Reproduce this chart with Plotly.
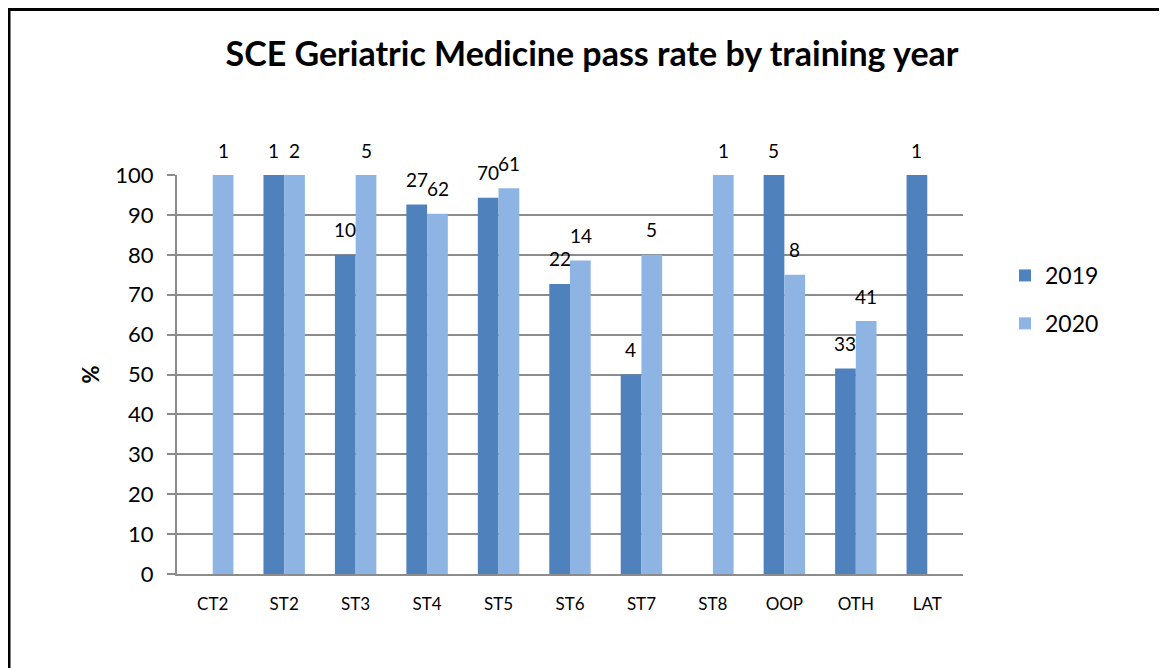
import plotly.graph_objects as go

categories = ["CT2", "ST2", "ST3", "ST4", "ST5", "ST6", "ST7", "ST8", "OOP", "OTH", "LAT"]
pass_2019 = [None, 100, 80, 92.6, 94.3, 72.7, 50, None, 100, 51.5, 100]
pass_2020 = [100, 100, 100, 90.3, 96.7, 78.6, 80, 100, 75, 63.4, None]
n_2019 = [None, 1, 10, 27, 70, 22, 4, None, 5, 33, 1]
n_2020 = [1, 2, 5, 62, 61, 14, 5, 1, 8, 41, None]
y_ticks = [0, 10, 20, 30, 40, 50, 60, 70, 80, 90, 100]

FONT = "Lato, 'Open Sans', sans-serif"
C2019 = "#4F81BD"
C2020 = "#8EB4E3"

# page is offset by the browser's 8px body margin
W, H = 1159, 660
L, R, T, B = 169, 204, 167, 94
PW, PH = W - L - R, H - T - B

fig = go.Figure()
fig.add_trace(go.Bar(name="2019", x=categories, y=pass_2019, marker_color=C2019,
                     marker_line_width=0, legendgroup="a", cliponaxis=False))
fig.add_trace(go.Bar(name="2020", x=categories, y=pass_2020, marker_color=C2020,
                     marker_line_width=0, legendgroup="b", cliponaxis=False))

annotations = []
for vals, ns, shift in ((pass_2019, n_2019, -10.5), (pass_2020, n_2020, 10.5)):
    for c, v, n in zip(categories, vals, ns):
        if v is None or n is None:
            continue
        annotations.append(dict(x=c, y=v, xref="x", yref="y", text=str(n), showarrow=False,
                                xshift=shift, yshift=25, font=dict(size=19, color="black", family=FONT)))

fig.update_layout(
    width=W, height=H,
    margin=dict(l=L, r=R, t=T, b=B),
    paper_bgcolor="white", plot_bgcolor="white",
    font=dict(family=FONT, color="black"),
    barmode="group", bargap=0.42, bargroupgap=0,
    title=dict(text="<b>SCE Geriatric Medicine pass rate by training year</b>",
               x=584 / W, xanchor="center", y=1 - 46 / H, yanchor="middle", yref="container",
               font=dict(size=34, family=FONT, color="black")),
    legend=dict(x=(997 - L) / PW, y=(566 - 246) / PH, xanchor="left", yanchor="top",
                font=dict(size=23, family=FONT),
                tracegroupgap=15, traceorder="grouped", bgcolor="rgba(0,0,0,0)"),
    annotations=annotations,
    shapes=[dict(type="rect", xref="paper", yref="paper", x0=(1 - L) / PW, x1=1.4,
                 y0=-0.5, y1=(566 - 1.5) / PH, line=dict(color="black", width=3),
                 fillcolor="rgba(0,0,0,0)", layer="below")],
)
fig.update_yaxes(range=[0, 100], tickvals=y_ticks, showgrid=True, gridcolor="#8C8C8C", gridwidth=2,
                 showline=True, linecolor="#8C8C8C", linewidth=2, ticks="outside", ticklen=8,
                 tickcolor="#8C8C8C", tickwidth=2, tickfont=dict(size=22, family=FONT),
                 ticklabelstandoff=9, zeroline=False,
                 title=dict(text="<b>%</b>", font=dict(size=22, family=FONT), standoff=10))
fig.update_xaxes(showline=True, linecolor="#8C8C8C", linewidth=2, ticks="",
                 tickfont=dict(size=17, family=FONT), ticklabelstandoff=14)

fig.write_html("out.html")
